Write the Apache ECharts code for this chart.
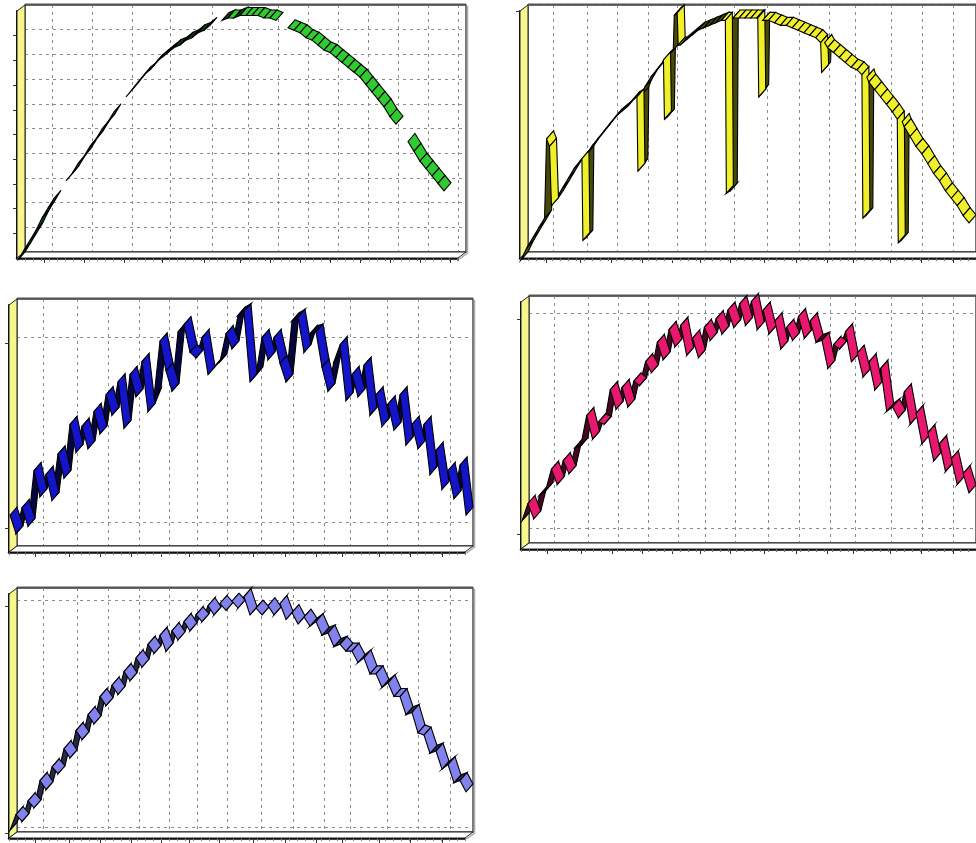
<!DOCTYPE html>
<html>
<head>
<meta charset="utf-8">
<title>3D ribbon lines</title>
<script src="https://cdn.jsdelivr.net/npm/echarts@6/dist/echarts.min.js"></script>
<style>
    html, body { margin: 0; padding: 0; background: #fff; }
    #main { width: 976px; height: 843px; }
</style>
</head>
<body>
<div id="main"></div>
<script>
    // x is in days, samples every 6 days unless given as [day, value]
    var step = 6;

    var greenVals = [
        0, 4, 8, 12, 17, 21, 25, null, 32, 35, 39, 42, 46, 49, 53, 56, 60, null, 66, 69,
        72, 75, 77, 80, 82, 84, 86, 87, 89, 90, 92, 93, 95, null, 97, 98, 98, 99, 99, 99,
        99, 98, 98, 97, null, 94, 93, 92, 90, 89, 87, 85, 84, 82, 80, 78, 76, 74, 71, 68,
        65, 62, 58, 55, null, 48, 44, 40, 37, 34, 31, 28
    ];

    // [day, value] - curve with the drop-outs
    var yellowPts = [
        [0, 0], [6, 5], [12, 9], [18, 13], [24, 17], [26, 49], [29, 46], [31, 22], [36, 25], [42, 29],
        [48, 33], [54, 37], [60, 40], [62, 41], [63, 8], [66, 9], [67, 43], [72, 46], [78, 49], [84, 52],
        [90, 55], [96, 58], [102, 60], [108, 62], [114, 65], [118, 66], [119, 36], [122, 38], [123, 67], [126, 70],
        [132, 74], [138, 77], [144, 80], [145, 81], [146, 57], [149, 58], [150, 83], [155, 85], [156, 99], [159, 100],
        [160, 87], [162, 87], [168, 89], [174, 91], [180, 93], [186, 94], [192, 95], [198, 96], [204, 97], [208, 97],
        [209, 27], [213, 28], [214, 97], [216, 98], [222, 98], [228, 98], [234, 98], [240, 98], [241, 98], [242, 66],
        [245, 68], [246, 97], [252, 97], [258, 96], [264, 95], [270, 95], [276, 94], [282, 93], [288, 92], [294, 91],
        [300, 90], [305, 88], [306, 76], [308, 77], [309, 88], [312, 86], [318, 84], [324, 82], [330, 80], [336, 78],
        [342, 77], [347, 75], [348, 17], [351, 18], [352, 74], [354, 72], [360, 69], [366, 66], [372, 63], [378, 60],
        [383, 57], [384, 7], [387, 8], [388, 56], [390, 54], [396, 50], [402, 46], [408, 43], [414, 39], [420, 35],
        [426, 32], [432, 28], [438, 25], [444, 22], [450, 18], [456, 15]
    ];

    var blueVals = [
        8, -2, 12, 2, 32, 18, 30, 16, 41, 28, 57, 42, 56, 44, 64, 52, 73, 62, 80, 55,
        84, 72, 91, 64, 72, 102, 86, 75, 107, 111, 96, 93, 104, 84, 88, 91, 106, 98, 116, 118,
        80, 84, 104, 92, 104, 90, 80, 113, 115, 96, 106, 107, 88, 75, 91, 100, 70, 84, 72, 89,
        62, 73, 56, 68, 54, 73, 46, 57, 44, 57, 30, 43, 22, 32, 17, 35, 8
    ];

    var pinkVals = [
        7, 15, 8, 19, 21, 31, 24, 35, 29, 41, 42, 56, 45, 53, 52, 68, 59, 69, 60, 72,
        70, 81, 76, 90, 82, 96, 88, 98, 84, 92, 83, 97, 91, 101, 94, 105, 97, 108, 98, 109,
        96, 105, 94, 100, 87, 97, 91, 102, 92, 100, 90, 91, 78, 89, 87, 95, 81, 85, 74, 81,
        68, 78, 58, 60, 55, 67, 52, 57, 43, 48, 35, 43, 30, 36, 24, 29, 20
    ];

    var purpleVals = [
        2, 9, 6, 15, 12, 24, 20, 30, 27, 38, 34, 46, 42, 53, 49, 61, 57, 66, 62, 72,
        68, 78, 74, 84, 80, 88, 81, 90, 86, 94, 90, 97, 94, 101, 97, 102, 99, 103, 100, 105,
        97, 100, 97, 101, 97, 102, 95, 98, 93, 96, 92, 94, 88, 89, 83, 84, 81, 81, 76, 78,
        71, 71, 65, 67, 61, 61, 53, 54, 45, 44, 36, 37, 29, 31, 23, 24, 19
    ];

    // vertical grid lines (days)
    var greenGridDays = [27, 67, 107, 145, 187, 223, 253, 283, 313, 343, 373, 403, 433];
    var gridDays = [26, 60, 91, 122, 152, 180, 210, 244, 276, 307, 333, 370, 401, 433];
    // horizontal grid lines
    var greenYTicks = [10, 20, 30, 40, 50, 60, 70, 80, 90];
    var edgeYTicks = [0, 100];

    function toPts(vals) {
        return vals.map(function (v, i) { return [i * step, v]; });
    }
    function segments(pts) {
        var out = [];
        for (var i = 0; i < pts.length - 1; i++) {
            if (pts[i][1] == null || pts[i + 1][1] == null) continue;
            out.push([pts[i][0], pts[i][1], pts[i + 1][0], pts[i + 1][1]]);
        }
        return out;
    }
    function shade(hex, f) {
        var n = parseInt(hex.slice(1), 16);
        var r = Math.round(((n >> 16) & 255) * f), g = Math.round(((n >> 8) & 255) * f), b = Math.round((n & 255) * f);
        return 'rgb(' + r + ',' + g + ',' + b + ')';
    }

    var wallD = [8, 6];     // back wall -> front plane
    var ribbonD = [-7, 8];  // depth of the ribbon

    var panels = [
        {left: 25, top: 5, width: 441, height: 247, xMax: 441, yMin: 0, yMax: 100,
            xTicks: greenGridDays, yTicks: greenYTicks, color: '#2ecc2e', pts: toPts(greenVals)},
        {left: 528, top: 5, width: 456, height: 247, xMax: 456, yMin: 0, yMax: 100,
            xTicks: gridDays, yTicks: [100], color: '#f0f02a', pts: yellowPts},
        {left: 17, top: 299, width: 456, height: 247, xMax: 456, yMin: -13, yMax: 120.5,
            xTicks: gridDays, yTicks: edgeYTicks, color: '#1414c8', pts: toPts(blueVals)},
        {left: 529, top: 296, width: 456, height: 247, xMax: 456, yMin: -7, yMax: 107.9,
            xTicks: gridDays, yTicks: edgeYTicks, color: '#e8186e', pts: toPts(pinkVals)},
        {left: 17, top: 588, width: 456, height: 244, xMax: 456, yMin: -2.2, yMax: 105.3,
            xTicks: gridDays, yTicks: edgeYTicks, color: '#8282ee', pts: toPts(purpleVals)}
    ];

    var grids = [], xAxes = [], yAxes = [], series = [], graphics = [];
    var dashed = {color: '#8c8c8c', width: 1, type: [3, 4]};

    panels.forEach(function (p, k) {
        var L = p.left, T = p.top, R = p.left + p.width, B = p.top + p.height;
        var dark = shade(p.color, 0.3);
        grids.push({left: L, top: T, width: p.width, height: p.height, show: true,
            backgroundColor: '#fff', borderColor: '#4a4a4a', borderWidth: 1.5, containLabel: false});
        grids.push({left: L - wallD[0], top: T + wallD[1], width: p.width, height: p.height, containLabel: false});

        // back wall: dashed grid only
        xAxes.push({gridIndex: 2 * k, type: 'value', min: 0, max: p.xMax,
            axisLine: {show: false, onZero: false}, axisTick: {show: false, customValues: p.xTicks},
            axisLabel: {show: false, customValues: p.xTicks}, splitLine: {show: true, lineStyle: dashed}});
        // front floor edge with ticks
        xAxes.push({gridIndex: 2 * k + 1, type: 'value', min: 0, max: p.xMax, position: 'bottom',
            axisLine: {show: true, onZero: false, lineStyle: {color: '#000', width: 2.5}},
            axisTick: {show: true, length: 5, customValues: p.xTicks, lineStyle: {color: '#333'}},
            axisLabel: {show: false}, splitLine: {show: false}});
        xAxes.push({gridIndex: 2 * k + 1, type: 'value', min: 0, max: p.xMax, interval: 8, position: 'bottom',
            axisLine: {show: false, onZero: false},
            axisTick: {show: true, length: 3, lineStyle: {color: '#777'}},
            axisLabel: {show: false}, splitLine: {show: false}});

        yAxes.push({gridIndex: 2 * k, type: 'value', min: p.yMin, max: p.yMax,
            axisLine: {show: false, onZero: false}, axisTick: {show: false, customValues: p.yTicks},
            axisLabel: {show: false, customValues: p.yTicks}, splitLine: {show: true, lineStyle: dashed}});
        yAxes.push({gridIndex: 2 * k + 1, type: 'value', min: p.yMin, max: p.yMax, position: 'left',
            axisLine: {show: true, onZero: false, lineStyle: {color: '#000', width: 2}},
            axisTick: {show: true, length: 4, customValues: p.yTicks, lineStyle: {color: '#333'}},
            axisLabel: {show: false}, splitLine: {show: false}});

        series.push({
            type: 'custom',
            xAxisIndex: 3 * k,
            yAxisIndex: 2 * k,
            clip: false,
            silent: true,
            animation: false,
            dimensions: ['x0', 'y0', 'x1', 'y1'],
            encode: {x: [0, 2], y: [1, 3]},
            data: segments(p.pts),
            renderItem: function (params, api) {
                var a = api.coord([api.value(0), api.value(1)]);
                var b = api.coord([api.value(2), api.value(3)]);
                // rising pieces show the dark underside of the ribbon
                var front = b[1] >= a[1] - 0.5;
                return {
                    type: 'polygon',
                    z2: front ? 2 : 1,
                    shape: {points: [a, b, [b[0] + ribbonD[0], b[1] + ribbonD[1]], [a[0] + ribbonD[0], a[1] + ribbonD[1]]]},
                    style: {fill: front ? p.color : dark, stroke: '#000', lineWidth: 1.1}
                };
            }
        });

        // yellow side wall
        graphics.push({type: 'polygon', z: 1, silent: true,
            shape: {points: [[L, T], [L - wallD[0], T + wallD[1]], [L - wallD[0], B + wallD[1]], [L, B]]},
            style: {fill: '#f6f68c', stroke: '#222', lineWidth: 1}});
        // floor
        graphics.push({type: 'polygon', z: 1, silent: true,
            shape: {points: [[L, B], [R, B], [R - wallD[0], B + wallD[1]], [L - wallD[0], B + wallD[1]]]},
            style: {fill: '#fff', stroke: '#222', lineWidth: 1}});
        // right edge shading
        graphics.push({type: 'polyline', z: 1, silent: true,
            shape: {points: [[R + 1.5, T + 1], [R + 1.5, B + 1], [R - wallD[0] + 1.5, B + wallD[1] + 1]]},
            style: {stroke: '#aaa', lineWidth: 1.5, fill: null}});
        graphics.push({type: 'line', z: 1, silent: true,
            shape: {x1: L, y1: T - 0.5, x2: R, y2: T - 0.5},
            style: {stroke: '#555', lineWidth: 2}});
    });

    var chart = echarts.init(document.getElementById('main'), null, {renderer: 'canvas'});
    chart.setOption({
        animation: false,
        backgroundColor: '#fff',
        grid: grids,
        xAxis: xAxes,
        yAxis: yAxes,
        series: series,
        graphic: graphics
    });
</script>
</body>
</html>
